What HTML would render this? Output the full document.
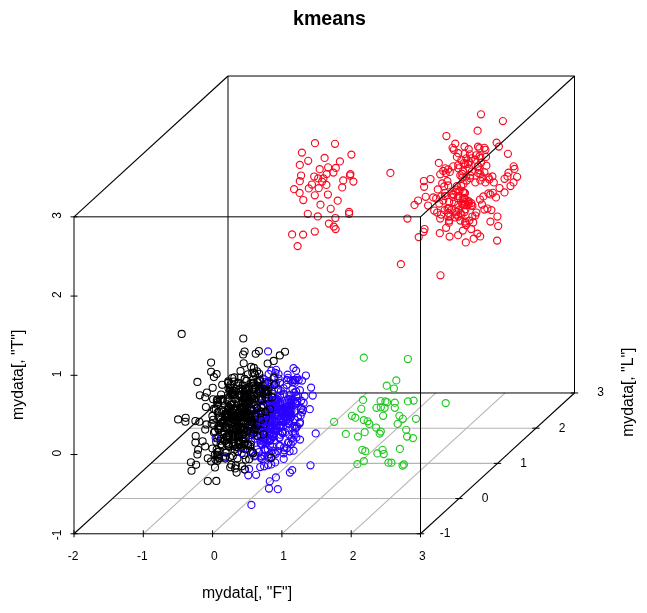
<!DOCTYPE html>
<html><head><meta charset="utf-8"><title>kmeans</title>
<style>html,body{margin:0;padding:0;background:#fff}body{width:647px;height:613px;overflow:hidden}</style></head>
<body>
<svg width="647" height="613" viewBox="0 0 647 613" style="display:block">
<rect width="647" height="613" fill="#fff"/>
<g stroke="#b4b4b4" stroke-width="1.05" fill="none"><line x1="143.30" y1="533.78" x2="297.30" y2="392.98"/><line x1="212.60" y1="533.78" x2="366.60" y2="392.98"/><line x1="281.90" y1="533.78" x2="435.90" y2="392.98"/><line x1="351.20" y1="533.78" x2="505.20" y2="392.98"/><line x1="112.50" y1="498.58" x2="459.00" y2="498.58"/><line x1="151.00" y1="463.38" x2="497.50" y2="463.38"/><line x1="189.50" y1="428.18" x2="536.00" y2="428.18"/></g>
<g stroke="#000" stroke-width="1" fill="none"><line x1="228.0" y1="76.03" x2="228.0" y2="392.98"/><line x1="228.0" y1="392.98" x2="574.5" y2="392.98"/><line x1="74.0" y1="533.78" x2="228.0" y2="392.98" stroke-width="1.12"/></g>
<g fill="none" class="p">
<g stroke="#f8081f" stroke-width="1.15"><circle cx="315.0" cy="143.2" r="3.55"/><circle cx="335.0" cy="143.8" r="3.55"/><circle cx="301.9" cy="152.6" r="3.55"/><circle cx="351.4" cy="154.6" r="3.55"/><circle cx="324.6" cy="157.9" r="3.55"/><circle cx="308.2" cy="160.8" r="3.55"/><circle cx="339.9" cy="161.4" r="3.55"/><circle cx="299.8" cy="164.9" r="3.55"/><circle cx="328.1" cy="167.3" r="3.55"/><circle cx="335.8" cy="167.9" r="3.55"/><circle cx="319.7" cy="169.2" r="3.55"/><circle cx="333.4" cy="172.6" r="3.55"/><circle cx="326.6" cy="174.1" r="3.55"/><circle cx="301.1" cy="175.5" r="3.55"/><circle cx="314.2" cy="176.5" r="3.55"/><circle cx="350.4" cy="174.1" r="3.55"/><circle cx="350.0" cy="175.5" r="3.55"/><circle cx="318.2" cy="178.4" r="3.55"/><circle cx="323.4" cy="178.4" r="3.55"/><circle cx="322.1" cy="181.6" r="3.55"/><circle cx="343.2" cy="180.4" r="3.55"/><circle cx="353.4" cy="181.6" r="3.55"/><circle cx="299.8" cy="181.2" r="3.55"/><circle cx="311.9" cy="184.5" r="3.55"/><circle cx="326.4" cy="184.9" r="3.55"/><circle cx="294.1" cy="189.2" r="3.55"/><circle cx="308.8" cy="188.4" r="3.55"/><circle cx="318.7" cy="188.2" r="3.55"/><circle cx="342.2" cy="187.4" r="3.55"/><circle cx="299.6" cy="192.9" r="3.55"/><circle cx="314.8" cy="195.3" r="3.55"/><circle cx="327.9" cy="194.5" r="3.55"/><circle cx="303.3" cy="200.0" r="3.55"/><circle cx="337.7" cy="200.7" r="3.55"/><circle cx="320.5" cy="204.7" r="3.55"/><circle cx="330.7" cy="208.8" r="3.55"/><circle cx="349.1" cy="211.9" r="3.55"/><circle cx="349.1" cy="213.8" r="3.55"/><circle cx="307.8" cy="213.8" r="3.55"/><circle cx="317.8" cy="216.4" r="3.55"/><circle cx="335.4" cy="218.0" r="3.55"/><circle cx="328.9" cy="223.6" r="3.55"/><circle cx="333.8" cy="226.6" r="3.55"/><circle cx="335.6" cy="229.1" r="3.55"/><circle cx="314.8" cy="231.5" r="3.55"/><circle cx="292.1" cy="234.4" r="3.55"/><circle cx="303.1" cy="234.6" r="3.55"/><circle cx="297.6" cy="246.1" r="3.55"/><circle cx="481.0" cy="114.3" r="3.55"/><circle cx="502.9" cy="121.1" r="3.55"/><circle cx="477.6" cy="130.7" r="3.55"/><circle cx="446.4" cy="136.0" r="3.55"/><circle cx="496.6" cy="142.6" r="3.55"/><circle cx="498.9" cy="146.6" r="3.55"/><circle cx="507.9" cy="153.8" r="3.55"/><circle cx="455.3" cy="143.6" r="3.55"/><circle cx="452.6" cy="147.8" r="3.55"/><circle cx="453.8" cy="149.8" r="3.55"/><circle cx="464.5" cy="146.6" r="3.55"/><circle cx="468.7" cy="149.2" r="3.55"/><circle cx="478.0" cy="146.6" r="3.55"/><circle cx="479.4" cy="148.2" r="3.55"/><circle cx="484.4" cy="147.8" r="3.55"/><circle cx="485.4" cy="149.8" r="3.55"/><circle cx="438.8" cy="162.9" r="3.55"/><circle cx="430.5" cy="179.0" r="3.55"/><circle cx="423.9" cy="181.0" r="3.55"/><circle cx="424.1" cy="186.8" r="3.55"/><circle cx="425.7" cy="196.8" r="3.55"/><circle cx="418.1" cy="200.5" r="3.55"/><circle cx="414.5" cy="204.9" r="3.55"/><circle cx="407.4" cy="218.5" r="3.55"/><circle cx="513.7" cy="166.3" r="3.55"/><circle cx="514.5" cy="168.9" r="3.55"/><circle cx="517.1" cy="176.8" r="3.55"/><circle cx="508.5" cy="172.7" r="3.55"/><circle cx="507.5" cy="176.4" r="3.55"/><circle cx="504.5" cy="178.8" r="3.55"/><circle cx="513.5" cy="182.4" r="3.55"/><circle cx="510.5" cy="186.0" r="3.55"/><circle cx="504.5" cy="192.4" r="3.55"/><circle cx="499.5" cy="188.0" r="3.55"/><circle cx="496.0" cy="197.4" r="3.55"/><circle cx="493.8" cy="182.4" r="3.55"/><circle cx="492.4" cy="176.4" r="3.55"/><circle cx="486.4" cy="165.7" r="3.55"/><circle cx="486.0" cy="156.9" r="3.55"/><circle cx="458.3" cy="153.2" r="3.55"/><circle cx="456.9" cy="156.9" r="3.55"/><circle cx="464.7" cy="153.8" r="3.55"/><circle cx="466.3" cy="158.3" r="3.55"/><circle cx="469.9" cy="154.3" r="3.55"/><circle cx="471.5" cy="158.3" r="3.55"/><circle cx="476.0" cy="155.3" r="3.55"/><circle cx="475.3" cy="159.7" r="3.55"/><circle cx="469.3" cy="162.3" r="3.55"/><circle cx="465.3" cy="164.3" r="3.55"/><circle cx="461.3" cy="160.3" r="3.55"/><circle cx="453.2" cy="166.3" r="3.55"/><circle cx="448.2" cy="169.3" r="3.55"/><circle cx="449.8" cy="171.9" r="3.55"/><circle cx="445.2" cy="168.3" r="3.55"/><circle cx="443.2" cy="170.9" r="3.55"/><circle cx="440.2" cy="174.3" r="3.55"/><circle cx="458.3" cy="168.3" r="3.55"/><circle cx="460.3" cy="175.3" r="3.55"/><circle cx="462.3" cy="177.4" r="3.55"/><circle cx="466.3" cy="176.4" r="3.55"/><circle cx="469.3" cy="168.3" r="3.55"/><circle cx="479.4" cy="170.3" r="3.55"/><circle cx="480.4" cy="174.3" r="3.55"/><circle cx="482.4" cy="177.4" r="3.55"/><circle cx="484.4" cy="172.3" r="3.55"/><circle cx="488.4" cy="177.4" r="3.55"/><circle cx="489.4" cy="179.4" r="3.55"/><circle cx="485.4" cy="182.4" r="3.55"/><circle cx="480.4" cy="180.4" r="3.55"/><circle cx="475.3" cy="182.4" r="3.55"/><circle cx="478.4" cy="166.3" r="3.55"/><circle cx="442.2" cy="183.4" r="3.55"/><circle cx="444.2" cy="186.4" r="3.55"/><circle cx="448.2" cy="185.4" r="3.55"/><circle cx="437.8" cy="189.4" r="3.55"/><circle cx="433.2" cy="197.4" r="3.55"/><circle cx="436.2" cy="198.5" r="3.55"/><circle cx="428.1" cy="205.5" r="3.55"/><circle cx="439.2" cy="203.5" r="3.55"/><circle cx="443.2" cy="200.5" r="3.55"/><circle cx="441.2" cy="196.4" r="3.55"/><circle cx="434.2" cy="210.5" r="3.55"/><circle cx="437.2" cy="212.5" r="3.55"/><circle cx="441.2" cy="214.5" r="3.55"/><circle cx="444.6" cy="210.1" r="3.55"/><circle cx="440.2" cy="218.5" r="3.55"/><circle cx="448.2" cy="216.5" r="3.55"/><circle cx="449.2" cy="220.6" r="3.55"/><circle cx="488.4" cy="193.4" r="3.55"/><circle cx="490.4" cy="194.4" r="3.55"/><circle cx="492.8" cy="192.8" r="3.55"/><circle cx="483.4" cy="196.4" r="3.55"/><circle cx="480.0" cy="199.5" r="3.55"/><circle cx="482.0" cy="204.5" r="3.55"/><circle cx="484.4" cy="209.5" r="3.55"/><circle cx="487.4" cy="208.5" r="3.55"/><circle cx="491.4" cy="210.1" r="3.55"/><circle cx="497.4" cy="216.5" r="3.55"/><circle cx="490.4" cy="221.6" r="3.55"/><circle cx="476.4" cy="212.5" r="3.55"/><circle cx="475.3" cy="215.5" r="3.55"/><circle cx="472.3" cy="216.5" r="3.55"/><circle cx="469.3" cy="220.6" r="3.55"/><circle cx="465.3" cy="221.6" r="3.55"/><circle cx="461.3" cy="214.5" r="3.55"/><circle cx="458.3" cy="216.5" r="3.55"/><circle cx="456.3" cy="214.5" r="3.55"/><circle cx="460.3" cy="220.6" r="3.55"/><circle cx="458.3" cy="204.8" r="3.55"/><circle cx="458.6" cy="196.2" r="3.55"/><circle cx="453.2" cy="197.2" r="3.55"/><circle cx="468.8" cy="203.9" r="3.55"/><circle cx="468.2" cy="202.1" r="3.55"/><circle cx="463.3" cy="201.4" r="3.55"/><circle cx="447.6" cy="208.4" r="3.55"/><circle cx="464.1" cy="204.7" r="3.55"/><circle cx="447.4" cy="181.2" r="3.55"/><circle cx="453.5" cy="194.6" r="3.55"/><circle cx="462.6" cy="199.0" r="3.55"/><circle cx="464.3" cy="192.7" r="3.55"/><circle cx="462.6" cy="203.6" r="3.55"/><circle cx="455.2" cy="217.4" r="3.55"/><circle cx="464.5" cy="212.0" r="3.55"/><circle cx="455.5" cy="191.7" r="3.55"/><circle cx="457.7" cy="198.3" r="3.55"/><circle cx="465.1" cy="202.1" r="3.55"/><circle cx="456.9" cy="189.5" r="3.55"/><circle cx="456.3" cy="212.2" r="3.55"/><circle cx="454.1" cy="202.0" r="3.55"/><circle cx="463.5" cy="183.9" r="3.55"/><circle cx="460.6" cy="213.1" r="3.55"/><circle cx="444.9" cy="196.1" r="3.55"/><circle cx="459.5" cy="190.9" r="3.55"/><circle cx="464.1" cy="198.8" r="3.55"/><circle cx="449.1" cy="208.1" r="3.55"/><circle cx="465.4" cy="209.3" r="3.55"/><circle cx="471.3" cy="203.2" r="3.55"/><circle cx="461.2" cy="185.9" r="3.55"/><circle cx="465.0" cy="193.1" r="3.55"/><circle cx="456.8" cy="186.2" r="3.55"/><circle cx="452.9" cy="193.9" r="3.55"/><circle cx="470.1" cy="178.2" r="3.55"/><circle cx="449.1" cy="202.0" r="3.55"/><circle cx="471.3" cy="205.5" r="3.55"/><circle cx="445.8" cy="173.1" r="3.55"/><circle cx="463.0" cy="191.8" r="3.55"/><circle cx="451.7" cy="209.7" r="3.55"/><circle cx="468.7" cy="201.1" r="3.55"/><circle cx="462.2" cy="204.0" r="3.55"/><circle cx="472.4" cy="205.9" r="3.55"/><circle cx="464.2" cy="205.2" r="3.55"/><circle cx="448.3" cy="212.9" r="3.55"/><circle cx="467.6" cy="205.0" r="3.55"/><circle cx="445.2" cy="192.8" r="3.55"/><circle cx="466.7" cy="180.5" r="3.55"/><circle cx="458.9" cy="210.1" r="3.55"/><circle cx="450.3" cy="216.3" r="3.55"/><circle cx="464.5" cy="197.9" r="3.55"/><circle cx="471.9" cy="171.5" r="3.55"/><circle cx="470.3" cy="175.5" r="3.55"/><circle cx="464.0" cy="163.0" r="3.55"/><circle cx="477.7" cy="166.5" r="3.55"/><circle cx="462.2" cy="173.9" r="3.55"/><circle cx="481.1" cy="162.7" r="3.55"/><circle cx="458.2" cy="165.2" r="3.55"/><circle cx="468.1" cy="163.9" r="3.55"/><circle cx="480.6" cy="158.1" r="3.55"/><circle cx="479.5" cy="156.1" r="3.55"/><circle cx="463.0" cy="171.4" r="3.55"/><circle cx="478.4" cy="173.2" r="3.55"/><circle cx="424.5" cy="229.0" r="3.55"/><circle cx="423.6" cy="231.8" r="3.55"/><circle cx="418.7" cy="237.1" r="3.55"/><circle cx="400.9" cy="264.2" r="3.55"/><circle cx="440.5" cy="275.3" r="3.55"/><circle cx="439.8" cy="233.2" r="3.55"/><circle cx="446.1" cy="227.8" r="3.55"/><circle cx="448.9" cy="222.7" r="3.55"/><circle cx="449.6" cy="236.6" r="3.55"/><circle cx="458.1" cy="235.2" r="3.55"/><circle cx="462.8" cy="230.6" r="3.55"/><circle cx="465.8" cy="242.4" r="3.55"/><circle cx="471.1" cy="229.0" r="3.55"/><circle cx="473.7" cy="238.7" r="3.55"/><circle cx="477.4" cy="233.6" r="3.55"/><circle cx="480.2" cy="236.4" r="3.55"/><circle cx="473.2" cy="222.5" r="3.55"/><circle cx="465.3" cy="223.2" r="3.55"/><circle cx="498.2" cy="226.0" r="3.55"/><circle cx="497.1" cy="240.6" r="3.55"/><circle cx="466.2" cy="225.0" r="3.55"/><circle cx="390.4" cy="172.9" r="3.55"/></g>
<g stroke="#1fc81f" stroke-width="1.15"><circle cx="363.8" cy="357.7" r="3.55"/><circle cx="407.9" cy="359.0" r="3.55"/><circle cx="396.3" cy="380.4" r="3.55"/><circle cx="386.7" cy="385.7" r="3.55"/><circle cx="393.9" cy="388.5" r="3.55"/><circle cx="363.0" cy="399.9" r="3.55"/><circle cx="380.6" cy="401.0" r="3.55"/><circle cx="385.4" cy="401.4" r="3.55"/><circle cx="387.1" cy="402.3" r="3.55"/><circle cx="394.8" cy="402.7" r="3.55"/><circle cx="407.9" cy="401.4" r="3.55"/><circle cx="413.6" cy="400.6" r="3.55"/><circle cx="445.7" cy="403.1" r="3.55"/><circle cx="361.3" cy="408.8" r="3.55"/><circle cx="376.5" cy="407.8" r="3.55"/><circle cx="380.8" cy="407.3" r="3.55"/><circle cx="384.6" cy="407.8" r="3.55"/><circle cx="394.8" cy="407.8" r="3.55"/><circle cx="383.1" cy="415.8" r="3.55"/><circle cx="351.9" cy="415.8" r="3.55"/><circle cx="355.3" cy="417.7" r="3.55"/><circle cx="399.4" cy="415.8" r="3.55"/><circle cx="402.8" cy="418.8" r="3.55"/><circle cx="416.0" cy="418.8" r="3.55"/><circle cx="334.1" cy="421.8" r="3.55"/><circle cx="363.8" cy="420.1" r="3.55"/><circle cx="367.6" cy="421.3" r="3.55"/><circle cx="369.3" cy="423.9" r="3.55"/><circle cx="397.7" cy="423.9" r="3.55"/><circle cx="376.1" cy="427.5" r="3.55"/><circle cx="406.2" cy="429.8" r="3.55"/><circle cx="380.8" cy="431.5" r="3.55"/><circle cx="379.7" cy="433.6" r="3.55"/><circle cx="364.7" cy="432.2" r="3.55"/><circle cx="345.8" cy="433.9" r="3.55"/><circle cx="357.9" cy="436.6" r="3.55"/><circle cx="407.1" cy="436.6" r="3.55"/><circle cx="413.0" cy="438.1" r="3.55"/><circle cx="399.9" cy="448.9" r="3.55"/><circle cx="362.3" cy="449.8" r="3.55"/><circle cx="365.3" cy="451.2" r="3.55"/><circle cx="382.5" cy="449.8" r="3.55"/><circle cx="377.4" cy="453.4" r="3.55"/><circle cx="383.7" cy="454.0" r="3.55"/><circle cx="363.8" cy="461.2" r="3.55"/><circle cx="357.4" cy="464.2" r="3.55"/><circle cx="388.4" cy="462.7" r="3.55"/><circle cx="391.4" cy="462.7" r="3.55"/><circle cx="402.6" cy="465.5" r="3.55"/><circle cx="403.9" cy="464.4" r="3.55"/></g>
<g stroke="#2a00ff" stroke-width="1.15"><circle cx="289.9" cy="414.7" r="3.55"/><circle cx="246.0" cy="435.6" r="3.55"/><circle cx="259.0" cy="452.0" r="3.55"/><circle cx="255.8" cy="415.7" r="3.55"/><circle cx="252.0" cy="414.5" r="3.55"/><circle cx="296.9" cy="426.4" r="3.55"/><circle cx="271.3" cy="438.8" r="3.55"/><circle cx="255.9" cy="427.4" r="3.55"/><circle cx="290.1" cy="418.7" r="3.55"/><circle cx="282.2" cy="432.9" r="3.55"/><circle cx="273.3" cy="408.0" r="3.55"/><circle cx="282.6" cy="431.6" r="3.55"/><circle cx="270.7" cy="439.6" r="3.55"/><circle cx="278.3" cy="388.8" r="3.55"/><circle cx="261.6" cy="421.6" r="3.55"/><circle cx="276.1" cy="369.8" r="3.55"/><circle cx="269.1" cy="382.1" r="3.55"/><circle cx="286.1" cy="407.4" r="3.55"/><circle cx="251.5" cy="409.0" r="3.55"/><circle cx="267.6" cy="456.4" r="3.55"/><circle cx="281.2" cy="426.9" r="3.55"/><circle cx="295.1" cy="380.4" r="3.55"/><circle cx="265.2" cy="450.1" r="3.55"/><circle cx="276.3" cy="414.2" r="3.55"/><circle cx="281.0" cy="419.3" r="3.55"/><circle cx="262.5" cy="385.1" r="3.55"/><circle cx="266.1" cy="417.8" r="3.55"/><circle cx="246.2" cy="417.4" r="3.55"/><circle cx="259.9" cy="386.6" r="3.55"/><circle cx="251.3" cy="441.9" r="3.55"/><circle cx="272.1" cy="412.0" r="3.55"/><circle cx="263.9" cy="440.6" r="3.55"/><circle cx="291.3" cy="403.2" r="3.55"/><circle cx="294.9" cy="419.6" r="3.55"/><circle cx="269.9" cy="427.3" r="3.55"/><circle cx="296.2" cy="427.9" r="3.55"/><circle cx="276.0" cy="406.9" r="3.55"/><circle cx="250.8" cy="407.9" r="3.55"/><circle cx="270.6" cy="408.3" r="3.55"/><circle cx="282.7" cy="433.0" r="3.55"/><circle cx="263.7" cy="433.8" r="3.55"/><circle cx="279.5" cy="427.1" r="3.55"/><circle cx="294.9" cy="382.7" r="3.55"/><circle cx="280.0" cy="412.4" r="3.55"/><circle cx="266.7" cy="412.3" r="3.55"/><circle cx="264.2" cy="455.6" r="3.55"/><circle cx="295.8" cy="403.2" r="3.55"/><circle cx="283.6" cy="453.3" r="3.55"/><circle cx="264.0" cy="428.2" r="3.55"/><circle cx="270.6" cy="383.7" r="3.55"/><circle cx="273.6" cy="436.5" r="3.55"/><circle cx="261.5" cy="407.9" r="3.55"/><circle cx="263.1" cy="416.3" r="3.55"/><circle cx="272.0" cy="383.7" r="3.55"/><circle cx="266.1" cy="423.9" r="3.55"/><circle cx="276.5" cy="405.4" r="3.55"/><circle cx="262.5" cy="389.2" r="3.55"/><circle cx="271.8" cy="414.0" r="3.55"/><circle cx="271.4" cy="406.0" r="3.55"/><circle cx="265.1" cy="432.9" r="3.55"/><circle cx="265.0" cy="449.5" r="3.55"/><circle cx="283.3" cy="420.8" r="3.55"/><circle cx="263.7" cy="415.7" r="3.55"/><circle cx="257.6" cy="435.8" r="3.55"/><circle cx="261.0" cy="430.6" r="3.55"/><circle cx="261.3" cy="444.1" r="3.55"/><circle cx="280.0" cy="382.9" r="3.55"/><circle cx="266.4" cy="428.2" r="3.55"/><circle cx="269.7" cy="439.8" r="3.55"/><circle cx="269.8" cy="417.9" r="3.55"/><circle cx="264.0" cy="406.3" r="3.55"/><circle cx="259.6" cy="422.0" r="3.55"/><circle cx="276.5" cy="430.1" r="3.55"/><circle cx="270.0" cy="420.4" r="3.55"/><circle cx="288.7" cy="442.8" r="3.55"/><circle cx="256.4" cy="400.7" r="3.55"/><circle cx="284.1" cy="447.5" r="3.55"/><circle cx="284.5" cy="407.9" r="3.55"/><circle cx="271.6" cy="408.8" r="3.55"/><circle cx="264.1" cy="379.4" r="3.55"/><circle cx="258.8" cy="398.6" r="3.55"/><circle cx="292.4" cy="427.4" r="3.55"/><circle cx="280.9" cy="391.0" r="3.55"/><circle cx="254.4" cy="423.7" r="3.55"/><circle cx="272.6" cy="393.8" r="3.55"/><circle cx="288.4" cy="411.1" r="3.55"/><circle cx="279.1" cy="420.1" r="3.55"/><circle cx="274.3" cy="384.6" r="3.55"/><circle cx="253.6" cy="421.1" r="3.55"/><circle cx="288.1" cy="442.3" r="3.55"/><circle cx="275.8" cy="414.3" r="3.55"/><circle cx="270.7" cy="419.6" r="3.55"/><circle cx="281.7" cy="409.0" r="3.55"/><circle cx="272.3" cy="436.8" r="3.55"/><circle cx="255.0" cy="438.7" r="3.55"/><circle cx="276.0" cy="383.3" r="3.55"/><circle cx="264.0" cy="392.8" r="3.55"/><circle cx="279.2" cy="410.7" r="3.55"/><circle cx="264.1" cy="392.3" r="3.55"/><circle cx="254.6" cy="405.0" r="3.55"/><circle cx="272.6" cy="427.5" r="3.55"/><circle cx="261.3" cy="424.1" r="3.55"/><circle cx="269.4" cy="434.5" r="3.55"/><circle cx="275.9" cy="421.7" r="3.55"/><circle cx="251.6" cy="431.2" r="3.55"/><circle cx="267.8" cy="449.3" r="3.55"/><circle cx="249.6" cy="422.1" r="3.55"/><circle cx="260.7" cy="414.0" r="3.55"/><circle cx="278.4" cy="412.4" r="3.55"/><circle cx="283.5" cy="388.2" r="3.55"/><circle cx="293.0" cy="380.2" r="3.55"/><circle cx="273.2" cy="430.7" r="3.55"/><circle cx="287.7" cy="411.9" r="3.55"/><circle cx="253.0" cy="411.1" r="3.55"/><circle cx="294.2" cy="392.6" r="3.55"/><circle cx="278.0" cy="451.2" r="3.55"/><circle cx="275.7" cy="399.5" r="3.55"/><circle cx="291.7" cy="415.8" r="3.55"/><circle cx="274.1" cy="440.2" r="3.55"/><circle cx="279.5" cy="446.1" r="3.55"/><circle cx="267.2" cy="398.3" r="3.55"/><circle cx="284.3" cy="450.3" r="3.55"/><circle cx="251.0" cy="432.7" r="3.55"/><circle cx="292.6" cy="382.2" r="3.55"/><circle cx="289.8" cy="412.9" r="3.55"/><circle cx="284.1" cy="409.1" r="3.55"/><circle cx="267.3" cy="398.6" r="3.55"/><circle cx="287.4" cy="418.9" r="3.55"/><circle cx="276.6" cy="428.1" r="3.55"/><circle cx="264.2" cy="425.0" r="3.55"/><circle cx="255.3" cy="414.6" r="3.55"/><circle cx="289.0" cy="409.2" r="3.55"/><circle cx="265.7" cy="413.7" r="3.55"/><circle cx="273.4" cy="397.1" r="3.55"/><circle cx="260.6" cy="457.8" r="3.55"/><circle cx="301.2" cy="409.2" r="3.55"/><circle cx="270.9" cy="427.1" r="3.55"/><circle cx="290.7" cy="380.5" r="3.55"/><circle cx="280.2" cy="410.5" r="3.55"/><circle cx="288.9" cy="414.9" r="3.55"/><circle cx="262.4" cy="444.6" r="3.55"/><circle cx="269.1" cy="415.6" r="3.55"/><circle cx="278.4" cy="400.1" r="3.55"/><circle cx="280.1" cy="403.4" r="3.55"/><circle cx="261.8" cy="456.3" r="3.55"/><circle cx="288.4" cy="415.4" r="3.55"/><circle cx="266.9" cy="432.4" r="3.55"/><circle cx="269.6" cy="441.2" r="3.55"/><circle cx="282.5" cy="421.8" r="3.55"/><circle cx="291.6" cy="405.4" r="3.55"/><circle cx="249.8" cy="450.9" r="3.55"/><circle cx="288.5" cy="403.0" r="3.55"/><circle cx="270.0" cy="429.1" r="3.55"/><circle cx="267.3" cy="440.3" r="3.55"/><circle cx="269.7" cy="387.1" r="3.55"/><circle cx="283.1" cy="410.7" r="3.55"/><circle cx="270.7" cy="429.1" r="3.55"/><circle cx="287.6" cy="409.5" r="3.55"/><circle cx="271.1" cy="425.0" r="3.55"/><circle cx="275.4" cy="429.3" r="3.55"/><circle cx="266.5" cy="424.9" r="3.55"/><circle cx="290.0" cy="411.9" r="3.55"/><circle cx="285.1" cy="417.5" r="3.55"/><circle cx="269.6" cy="454.3" r="3.55"/><circle cx="274.7" cy="409.4" r="3.55"/><circle cx="265.2" cy="397.4" r="3.55"/><circle cx="263.2" cy="404.7" r="3.55"/><circle cx="262.0" cy="459.0" r="3.55"/><circle cx="296.7" cy="403.9" r="3.55"/><circle cx="274.7" cy="421.8" r="3.55"/><circle cx="251.2" cy="452.3" r="3.55"/><circle cx="282.7" cy="412.8" r="3.55"/><circle cx="264.0" cy="431.5" r="3.55"/><circle cx="278.3" cy="389.8" r="3.55"/><circle cx="298.1" cy="396.0" r="3.55"/><circle cx="258.2" cy="428.4" r="3.55"/><circle cx="292.5" cy="389.1" r="3.55"/><circle cx="279.4" cy="437.8" r="3.55"/><circle cx="273.0" cy="418.4" r="3.55"/><circle cx="291.4" cy="411.0" r="3.55"/><circle cx="265.4" cy="437.5" r="3.55"/><circle cx="285.7" cy="412.6" r="3.55"/><circle cx="264.6" cy="427.5" r="3.55"/><circle cx="270.6" cy="429.3" r="3.55"/><circle cx="251.1" cy="428.5" r="3.55"/><circle cx="294.2" cy="411.8" r="3.55"/><circle cx="291.6" cy="400.2" r="3.55"/><circle cx="279.6" cy="426.6" r="3.55"/><circle cx="262.7" cy="378.4" r="3.55"/><circle cx="280.4" cy="408.5" r="3.55"/><circle cx="283.9" cy="394.0" r="3.55"/><circle cx="291.7" cy="438.3" r="3.55"/><circle cx="295.2" cy="402.5" r="3.55"/><circle cx="286.7" cy="416.2" r="3.55"/><circle cx="274.1" cy="434.3" r="3.55"/><circle cx="261.5" cy="422.0" r="3.55"/><circle cx="281.3" cy="411.9" r="3.55"/><circle cx="250.0" cy="430.9" r="3.55"/><circle cx="263.4" cy="438.5" r="3.55"/><circle cx="284.4" cy="409.7" r="3.55"/><circle cx="257.8" cy="430.7" r="3.55"/><circle cx="299.9" cy="390.2" r="3.55"/><circle cx="271.8" cy="416.1" r="3.55"/><circle cx="288.6" cy="406.1" r="3.55"/><circle cx="286.9" cy="379.9" r="3.55"/><circle cx="278.2" cy="403.9" r="3.55"/><circle cx="263.7" cy="442.2" r="3.55"/><circle cx="260.6" cy="443.5" r="3.55"/><circle cx="283.3" cy="426.0" r="3.55"/><circle cx="272.4" cy="446.8" r="3.55"/><circle cx="272.3" cy="422.0" r="3.55"/><circle cx="299.7" cy="423.5" r="3.55"/><circle cx="289.0" cy="420.8" r="3.55"/><circle cx="289.6" cy="395.0" r="3.55"/><circle cx="265.3" cy="426.3" r="3.55"/><circle cx="257.0" cy="449.5" r="3.55"/><circle cx="293.5" cy="400.3" r="3.55"/><circle cx="263.3" cy="405.8" r="3.55"/><circle cx="271.8" cy="433.9" r="3.55"/><circle cx="268.1" cy="405.0" r="3.55"/><circle cx="283.8" cy="416.6" r="3.55"/><circle cx="280.3" cy="401.9" r="3.55"/><circle cx="265.4" cy="382.2" r="3.55"/><circle cx="286.2" cy="420.5" r="3.55"/><circle cx="258.0" cy="413.3" r="3.55"/><circle cx="280.3" cy="434.7" r="3.55"/><circle cx="254.8" cy="424.4" r="3.55"/><circle cx="264.7" cy="390.7" r="3.55"/><circle cx="264.1" cy="415.0" r="3.55"/><circle cx="280.3" cy="445.8" r="3.55"/><circle cx="295.2" cy="428.7" r="3.55"/><circle cx="276.7" cy="398.7" r="3.55"/><circle cx="269.2" cy="433.7" r="3.55"/><circle cx="280.1" cy="395.9" r="3.55"/><circle cx="254.1" cy="456.3" r="3.55"/><circle cx="266.2" cy="443.2" r="3.55"/><circle cx="297.1" cy="378.0" r="3.55"/><circle cx="276.7" cy="425.4" r="3.55"/><circle cx="244.2" cy="439.0" r="3.55"/><circle cx="260.3" cy="435.6" r="3.55"/><circle cx="303.0" cy="410.1" r="3.55"/><circle cx="255.3" cy="455.4" r="3.55"/><circle cx="285.1" cy="432.4" r="3.55"/><circle cx="303.6" cy="403.0" r="3.55"/><circle cx="262.5" cy="417.1" r="3.55"/><circle cx="275.4" cy="400.7" r="3.55"/><circle cx="272.5" cy="405.8" r="3.55"/><circle cx="276.0" cy="402.5" r="3.55"/><circle cx="267.4" cy="439.9" r="3.55"/><circle cx="275.8" cy="453.8" r="3.55"/><circle cx="297.9" cy="417.0" r="3.55"/><circle cx="289.1" cy="434.5" r="3.55"/><circle cx="251.0" cy="420.6" r="3.55"/><circle cx="260.4" cy="396.5" r="3.55"/><circle cx="278.5" cy="374.0" r="3.55"/><circle cx="258.9" cy="412.8" r="3.55"/><circle cx="289.1" cy="400.1" r="3.55"/><circle cx="266.7" cy="399.2" r="3.55"/><circle cx="256.4" cy="415.0" r="3.55"/><circle cx="271.3" cy="416.1" r="3.55"/><circle cx="279.3" cy="408.7" r="3.55"/><circle cx="256.8" cy="431.9" r="3.55"/><circle cx="279.6" cy="437.5" r="3.55"/><circle cx="285.6" cy="411.8" r="3.55"/><circle cx="262.5" cy="393.9" r="3.55"/><circle cx="279.5" cy="404.1" r="3.55"/><circle cx="275.4" cy="372.9" r="3.55"/><circle cx="267.3" cy="404.0" r="3.55"/><circle cx="286.6" cy="384.8" r="3.55"/><circle cx="261.3" cy="421.7" r="3.55"/><circle cx="270.0" cy="446.0" r="3.55"/><circle cx="290.2" cy="408.0" r="3.55"/><circle cx="268.7" cy="413.3" r="3.55"/><circle cx="297.3" cy="401.1" r="3.55"/><circle cx="264.8" cy="434.2" r="3.55"/><circle cx="260.3" cy="440.7" r="3.55"/><circle cx="287.1" cy="406.6" r="3.55"/><circle cx="274.9" cy="400.5" r="3.55"/><circle cx="288.6" cy="423.5" r="3.55"/><circle cx="269.0" cy="457.4" r="3.55"/><circle cx="268.4" cy="415.4" r="3.55"/><circle cx="270.6" cy="433.2" r="3.55"/><circle cx="250.6" cy="395.6" r="3.55"/><circle cx="293.2" cy="433.3" r="3.55"/><circle cx="288.0" cy="398.8" r="3.55"/><circle cx="290.5" cy="398.8" r="3.55"/><circle cx="270.5" cy="425.6" r="3.55"/><circle cx="276.7" cy="416.1" r="3.55"/><circle cx="263.8" cy="421.1" r="3.55"/><circle cx="279.9" cy="425.2" r="3.55"/><circle cx="268.8" cy="400.5" r="3.55"/></g>
<g stroke="#000000" stroke-width="1.05"><circle cx="260.5" cy="389.3" r="3.55"/><circle cx="218.7" cy="451.4" r="3.55"/><circle cx="222.0" cy="444.9" r="3.55"/><circle cx="250.8" cy="417.5" r="3.55"/><circle cx="218.6" cy="436.5" r="3.55"/><circle cx="238.3" cy="447.3" r="3.55"/><circle cx="242.9" cy="429.5" r="3.55"/><circle cx="227.9" cy="422.8" r="3.55"/><circle cx="236.7" cy="424.2" r="3.55"/><circle cx="240.7" cy="416.2" r="3.55"/><circle cx="228.9" cy="422.1" r="3.55"/><circle cx="245.0" cy="389.2" r="3.55"/><circle cx="258.2" cy="385.7" r="3.55"/><circle cx="235.8" cy="465.4" r="3.55"/><circle cx="241.0" cy="414.8" r="3.55"/><circle cx="217.3" cy="460.8" r="3.55"/><circle cx="253.6" cy="391.9" r="3.55"/><circle cx="255.8" cy="413.4" r="3.55"/><circle cx="228.3" cy="381.4" r="3.55"/><circle cx="233.0" cy="432.5" r="3.55"/><circle cx="234.9" cy="420.4" r="3.55"/><circle cx="216.7" cy="455.3" r="3.55"/><circle cx="229.9" cy="387.2" r="3.55"/><circle cx="240.8" cy="408.2" r="3.55"/><circle cx="228.1" cy="438.4" r="3.55"/><circle cx="266.5" cy="394.1" r="3.55"/><circle cx="236.2" cy="421.8" r="3.55"/><circle cx="253.3" cy="385.5" r="3.55"/><circle cx="220.1" cy="425.8" r="3.55"/><circle cx="238.9" cy="437.2" r="3.55"/><circle cx="242.4" cy="409.3" r="3.55"/><circle cx="212.4" cy="415.9" r="3.55"/><circle cx="244.7" cy="378.9" r="3.55"/><circle cx="240.3" cy="388.4" r="3.55"/><circle cx="244.0" cy="455.1" r="3.55"/><circle cx="244.8" cy="395.5" r="3.55"/><circle cx="247.9" cy="374.2" r="3.55"/><circle cx="226.4" cy="417.8" r="3.55"/><circle cx="230.7" cy="413.5" r="3.55"/><circle cx="232.7" cy="417.1" r="3.55"/><circle cx="237.9" cy="403.2" r="3.55"/><circle cx="226.9" cy="436.1" r="3.55"/><circle cx="264.1" cy="424.1" r="3.55"/><circle cx="225.9" cy="416.8" r="3.55"/><circle cx="240.6" cy="377.6" r="3.55"/><circle cx="235.2" cy="399.3" r="3.55"/><circle cx="250.9" cy="396.3" r="3.55"/><circle cx="214.0" cy="432.5" r="3.55"/><circle cx="233.4" cy="430.3" r="3.55"/><circle cx="225.5" cy="452.5" r="3.55"/><circle cx="232.7" cy="417.3" r="3.55"/><circle cx="242.5" cy="435.1" r="3.55"/><circle cx="257.1" cy="436.0" r="3.55"/><circle cx="253.3" cy="379.5" r="3.55"/><circle cx="240.6" cy="429.8" r="3.55"/><circle cx="252.3" cy="422.1" r="3.55"/><circle cx="222.3" cy="399.0" r="3.55"/><circle cx="217.3" cy="438.0" r="3.55"/><circle cx="232.1" cy="401.8" r="3.55"/><circle cx="262.8" cy="388.7" r="3.55"/><circle cx="216.8" cy="400.4" r="3.55"/><circle cx="236.7" cy="409.1" r="3.55"/><circle cx="253.8" cy="404.5" r="3.55"/><circle cx="218.9" cy="426.3" r="3.55"/><circle cx="248.0" cy="431.3" r="3.55"/><circle cx="223.5" cy="434.9" r="3.55"/><circle cx="234.4" cy="439.3" r="3.55"/><circle cx="233.4" cy="415.7" r="3.55"/><circle cx="238.4" cy="382.8" r="3.55"/><circle cx="225.9" cy="413.6" r="3.55"/><circle cx="242.8" cy="385.2" r="3.55"/><circle cx="214.9" cy="454.5" r="3.55"/><circle cx="238.4" cy="441.9" r="3.55"/><circle cx="239.6" cy="395.8" r="3.55"/><circle cx="244.0" cy="444.3" r="3.55"/><circle cx="248.5" cy="394.3" r="3.55"/><circle cx="244.2" cy="429.4" r="3.55"/><circle cx="231.5" cy="410.5" r="3.55"/><circle cx="232.9" cy="435.5" r="3.55"/><circle cx="228.8" cy="446.1" r="3.55"/><circle cx="256.0" cy="428.2" r="3.55"/><circle cx="234.1" cy="442.3" r="3.55"/><circle cx="241.1" cy="413.5" r="3.55"/><circle cx="224.2" cy="420.3" r="3.55"/><circle cx="215.4" cy="459.5" r="3.55"/><circle cx="265.5" cy="392.6" r="3.55"/><circle cx="232.5" cy="414.2" r="3.55"/><circle cx="232.1" cy="378.1" r="3.55"/><circle cx="246.3" cy="394.1" r="3.55"/><circle cx="244.5" cy="402.9" r="3.55"/><circle cx="232.4" cy="392.1" r="3.55"/><circle cx="247.1" cy="403.5" r="3.55"/><circle cx="253.9" cy="399.3" r="3.55"/><circle cx="245.7" cy="438.5" r="3.55"/><circle cx="219.8" cy="417.4" r="3.55"/><circle cx="241.0" cy="414.9" r="3.55"/><circle cx="230.9" cy="393.7" r="3.55"/><circle cx="254.1" cy="432.6" r="3.55"/><circle cx="241.5" cy="394.2" r="3.55"/><circle cx="228.5" cy="388.2" r="3.55"/><circle cx="251.6" cy="399.5" r="3.55"/><circle cx="241.0" cy="423.3" r="3.55"/><circle cx="217.8" cy="402.0" r="3.55"/><circle cx="268.6" cy="397.9" r="3.55"/><circle cx="260.8" cy="411.5" r="3.55"/><circle cx="229.3" cy="407.3" r="3.55"/><circle cx="241.7" cy="410.3" r="3.55"/><circle cx="240.0" cy="432.6" r="3.55"/><circle cx="228.0" cy="394.8" r="3.55"/><circle cx="228.5" cy="406.3" r="3.55"/><circle cx="237.4" cy="451.6" r="3.55"/><circle cx="250.2" cy="421.7" r="3.55"/><circle cx="260.6" cy="399.0" r="3.55"/><circle cx="262.0" cy="399.9" r="3.55"/><circle cx="226.7" cy="426.9" r="3.55"/><circle cx="242.1" cy="446.3" r="3.55"/><circle cx="246.1" cy="401.6" r="3.55"/><circle cx="220.5" cy="440.7" r="3.55"/><circle cx="224.5" cy="420.8" r="3.55"/><circle cx="251.1" cy="419.5" r="3.55"/><circle cx="250.7" cy="444.5" r="3.55"/><circle cx="237.6" cy="420.1" r="3.55"/><circle cx="232.8" cy="456.0" r="3.55"/><circle cx="245.8" cy="406.3" r="3.55"/><circle cx="253.1" cy="434.1" r="3.55"/><circle cx="224.8" cy="415.4" r="3.55"/><circle cx="241.8" cy="417.3" r="3.55"/><circle cx="242.8" cy="390.5" r="3.55"/><circle cx="254.1" cy="395.8" r="3.55"/><circle cx="251.1" cy="383.6" r="3.55"/><circle cx="216.7" cy="449.5" r="3.55"/><circle cx="230.3" cy="385.2" r="3.55"/><circle cx="249.5" cy="386.7" r="3.55"/><circle cx="246.9" cy="404.0" r="3.55"/><circle cx="254.5" cy="388.6" r="3.55"/><circle cx="258.5" cy="390.9" r="3.55"/><circle cx="265.0" cy="390.5" r="3.55"/><circle cx="245.9" cy="388.8" r="3.55"/><circle cx="243.5" cy="412.4" r="3.55"/><circle cx="220.8" cy="399.7" r="3.55"/><circle cx="253.8" cy="382.9" r="3.55"/><circle cx="252.4" cy="382.9" r="3.55"/><circle cx="234.9" cy="449.6" r="3.55"/><circle cx="225.7" cy="415.8" r="3.55"/><circle cx="233.2" cy="419.6" r="3.55"/><circle cx="220.8" cy="438.9" r="3.55"/><circle cx="233.5" cy="408.7" r="3.55"/><circle cx="251.8" cy="396.9" r="3.55"/><circle cx="231.9" cy="415.5" r="3.55"/><circle cx="247.4" cy="443.7" r="3.55"/><circle cx="244.6" cy="443.9" r="3.55"/><circle cx="244.7" cy="416.5" r="3.55"/><circle cx="220.9" cy="419.7" r="3.55"/><circle cx="226.4" cy="442.9" r="3.55"/><circle cx="247.9" cy="420.8" r="3.55"/><circle cx="259.1" cy="391.0" r="3.55"/><circle cx="254.3" cy="429.7" r="3.55"/><circle cx="244.0" cy="415.6" r="3.55"/><circle cx="261.5" cy="407.3" r="3.55"/><circle cx="230.0" cy="418.2" r="3.55"/><circle cx="266.7" cy="391.2" r="3.55"/><circle cx="255.1" cy="374.8" r="3.55"/><circle cx="243.5" cy="398.7" r="3.55"/><circle cx="238.5" cy="383.1" r="3.55"/><circle cx="233.3" cy="444.3" r="3.55"/><circle cx="250.6" cy="418.0" r="3.55"/><circle cx="261.1" cy="420.0" r="3.55"/><circle cx="241.0" cy="427.3" r="3.55"/><circle cx="247.1" cy="408.5" r="3.55"/><circle cx="237.9" cy="435.5" r="3.55"/><circle cx="218.0" cy="454.7" r="3.55"/><circle cx="250.3" cy="424.9" r="3.55"/><circle cx="233.0" cy="412.6" r="3.55"/><circle cx="229.4" cy="427.7" r="3.55"/><circle cx="232.7" cy="429.5" r="3.55"/><circle cx="230.2" cy="467.2" r="3.55"/><circle cx="234.4" cy="377.4" r="3.55"/><circle cx="255.1" cy="416.2" r="3.55"/><circle cx="246.1" cy="412.1" r="3.55"/><circle cx="225.2" cy="456.4" r="3.55"/><circle cx="215.8" cy="409.7" r="3.55"/><circle cx="237.0" cy="447.6" r="3.55"/><circle cx="247.0" cy="413.2" r="3.55"/><circle cx="234.9" cy="408.1" r="3.55"/><circle cx="245.5" cy="388.4" r="3.55"/><circle cx="232.9" cy="409.0" r="3.55"/><circle cx="248.9" cy="415.6" r="3.55"/><circle cx="217.9" cy="456.6" r="3.55"/><circle cx="211.7" cy="423.7" r="3.55"/><circle cx="235.5" cy="432.3" r="3.55"/><circle cx="232.3" cy="394.7" r="3.55"/><circle cx="218.2" cy="428.6" r="3.55"/><circle cx="234.9" cy="436.5" r="3.55"/><circle cx="240.8" cy="394.2" r="3.55"/><circle cx="229.1" cy="443.9" r="3.55"/><circle cx="223.6" cy="411.3" r="3.55"/><circle cx="243.3" cy="421.6" r="3.55"/><circle cx="242.0" cy="411.6" r="3.55"/><circle cx="245.4" cy="449.3" r="3.55"/><circle cx="219.0" cy="411.6" r="3.55"/><circle cx="254.2" cy="428.8" r="3.55"/><circle cx="228.2" cy="416.9" r="3.55"/><circle cx="259.0" cy="388.7" r="3.55"/><circle cx="246.3" cy="380.7" r="3.55"/><circle cx="265.8" cy="397.8" r="3.55"/><circle cx="226.4" cy="413.1" r="3.55"/><circle cx="230.5" cy="418.3" r="3.55"/><circle cx="265.6" cy="411.9" r="3.55"/><circle cx="220.6" cy="444.3" r="3.55"/><circle cx="250.7" cy="409.7" r="3.55"/><circle cx="250.6" cy="408.1" r="3.55"/><circle cx="236.7" cy="416.9" r="3.55"/><circle cx="228.2" cy="435.1" r="3.55"/><circle cx="257.6" cy="424.4" r="3.55"/><circle cx="233.8" cy="403.8" r="3.55"/><circle cx="232.7" cy="436.9" r="3.55"/><circle cx="228.3" cy="444.7" r="3.55"/><circle cx="221.3" cy="423.2" r="3.55"/><circle cx="224.0" cy="431.4" r="3.55"/><circle cx="237.7" cy="427.3" r="3.55"/><circle cx="238.1" cy="385.5" r="3.55"/><circle cx="240.8" cy="391.1" r="3.55"/><circle cx="235.1" cy="410.4" r="3.55"/><circle cx="226.1" cy="415.2" r="3.55"/><circle cx="236.1" cy="428.5" r="3.55"/><circle cx="227.8" cy="418.1" r="3.55"/><circle cx="237.6" cy="421.8" r="3.55"/><circle cx="234.2" cy="420.2" r="3.55"/><circle cx="246.6" cy="430.3" r="3.55"/><circle cx="241.7" cy="403.1" r="3.55"/><circle cx="257.6" cy="382.2" r="3.55"/><circle cx="217.6" cy="412.6" r="3.55"/><circle cx="214.2" cy="425.2" r="3.55"/><circle cx="252.3" cy="451.8" r="3.55"/><circle cx="244.5" cy="394.5" r="3.55"/><circle cx="257.5" cy="393.5" r="3.55"/><circle cx="250.7" cy="413.6" r="3.55"/><circle cx="228.1" cy="408.9" r="3.55"/><circle cx="266.8" cy="391.0" r="3.55"/><circle cx="234.4" cy="429.7" r="3.55"/><circle cx="219.2" cy="458.2" r="3.55"/><circle cx="238.8" cy="441.3" r="3.55"/><circle cx="218.3" cy="417.6" r="3.55"/><circle cx="248.0" cy="387.5" r="3.55"/><circle cx="241.2" cy="407.6" r="3.55"/><circle cx="231.2" cy="404.5" r="3.55"/><circle cx="229.0" cy="435.9" r="3.55"/><circle cx="224.9" cy="405.2" r="3.55"/><circle cx="242.3" cy="439.0" r="3.55"/><circle cx="245.6" cy="403.6" r="3.55"/><circle cx="233.2" cy="445.9" r="3.55"/><circle cx="249.1" cy="388.6" r="3.55"/><circle cx="241.5" cy="447.8" r="3.55"/><circle cx="232.5" cy="412.4" r="3.55"/><circle cx="246.3" cy="397.0" r="3.55"/><circle cx="234.9" cy="434.4" r="3.55"/><circle cx="239.6" cy="443.6" r="3.55"/><circle cx="234.5" cy="395.0" r="3.55"/><circle cx="244.0" cy="398.0" r="3.55"/><circle cx="252.3" cy="372.8" r="3.55"/><circle cx="242.9" cy="408.9" r="3.55"/><circle cx="242.3" cy="412.2" r="3.55"/><circle cx="236.6" cy="427.9" r="3.55"/><circle cx="233.5" cy="394.5" r="3.55"/><circle cx="221.1" cy="394.5" r="3.55"/><circle cx="235.7" cy="417.0" r="3.55"/><circle cx="250.2" cy="400.5" r="3.55"/><circle cx="240.2" cy="418.1" r="3.55"/><circle cx="237.6" cy="437.3" r="3.55"/><circle cx="228.0" cy="417.6" r="3.55"/><circle cx="229.0" cy="446.8" r="3.55"/><circle cx="252.4" cy="409.8" r="3.55"/><circle cx="217.4" cy="452.1" r="3.55"/><circle cx="248.5" cy="417.5" r="3.55"/><circle cx="232.7" cy="428.7" r="3.55"/><circle cx="232.3" cy="423.4" r="3.55"/><circle cx="260.0" cy="379.8" r="3.55"/><circle cx="259.2" cy="373.7" r="3.55"/><circle cx="257.0" cy="408.4" r="3.55"/><circle cx="229.9" cy="457.3" r="3.55"/><circle cx="230.5" cy="405.0" r="3.55"/><circle cx="257.0" cy="425.5" r="3.55"/><circle cx="229.8" cy="412.0" r="3.55"/><circle cx="229.6" cy="398.1" r="3.55"/><circle cx="245.5" cy="424.7" r="3.55"/><circle cx="224.8" cy="440.9" r="3.55"/><circle cx="227.8" cy="417.0" r="3.55"/><circle cx="239.0" cy="443.8" r="3.55"/><circle cx="253.9" cy="367.9" r="3.55"/><circle cx="226.7" cy="452.6" r="3.55"/><circle cx="226.9" cy="436.9" r="3.55"/><circle cx="218.7" cy="429.8" r="3.55"/><circle cx="240.2" cy="427.8" r="3.55"/><circle cx="226.3" cy="423.6" r="3.55"/><circle cx="239.4" cy="436.3" r="3.55"/><circle cx="244.1" cy="407.2" r="3.55"/><circle cx="222.6" cy="400.7" r="3.55"/><circle cx="254.6" cy="416.4" r="3.55"/><circle cx="245.3" cy="397.6" r="3.55"/><circle cx="243.4" cy="434.2" r="3.55"/><circle cx="237.4" cy="458.4" r="3.55"/><circle cx="216.2" cy="441.8" r="3.55"/><circle cx="248.3" cy="399.8" r="3.55"/><circle cx="254.9" cy="387.4" r="3.55"/><circle cx="246.0" cy="391.1" r="3.55"/><circle cx="250.1" cy="446.2" r="3.55"/><circle cx="245.8" cy="414.9" r="3.55"/><circle cx="232.7" cy="394.1" r="3.55"/><circle cx="247.1" cy="403.3" r="3.55"/><circle cx="248.2" cy="445.4" r="3.55"/><circle cx="235.6" cy="391.1" r="3.55"/><circle cx="229.2" cy="433.3" r="3.55"/><circle cx="238.8" cy="394.9" r="3.55"/><circle cx="243.0" cy="402.4" r="3.55"/><circle cx="222.2" cy="421.6" r="3.55"/><circle cx="225.9" cy="436.8" r="3.55"/><circle cx="241.8" cy="429.2" r="3.55"/><circle cx="246.1" cy="430.9" r="3.55"/><circle cx="241.5" cy="420.2" r="3.55"/><circle cx="241.5" cy="406.9" r="3.55"/><circle cx="252.6" cy="402.7" r="3.55"/><circle cx="232.7" cy="390.4" r="3.55"/><circle cx="231.4" cy="417.3" r="3.55"/><circle cx="259.8" cy="381.3" r="3.55"/><circle cx="254.0" cy="372.9" r="3.55"/><circle cx="225.1" cy="426.6" r="3.55"/><circle cx="228.2" cy="409.7" r="3.55"/><circle cx="230.1" cy="390.9" r="3.55"/><circle cx="256.8" cy="407.5" r="3.55"/><circle cx="241.2" cy="408.4" r="3.55"/><circle cx="242.9" cy="439.2" r="3.55"/><circle cx="240.3" cy="446.6" r="3.55"/><circle cx="266.2" cy="417.8" r="3.55"/><circle cx="221.5" cy="409.7" r="3.55"/><circle cx="226.2" cy="427.4" r="3.55"/><circle cx="244.9" cy="428.8" r="3.55"/><circle cx="220.5" cy="427.8" r="3.55"/><circle cx="222.7" cy="423.7" r="3.55"/><circle cx="268.3" cy="390.9" r="3.55"/><circle cx="233.1" cy="420.2" r="3.55"/></g>
<g stroke="#2a00ff" stroke-width="1.15"><circle cx="279.9" cy="418.4" r="3.55"/><circle cx="296.2" cy="395.9" r="3.55"/><circle cx="268.1" cy="428.0" r="3.55"/><circle cx="262.7" cy="421.7" r="3.55"/><circle cx="269.3" cy="422.4" r="3.55"/><circle cx="277.5" cy="421.5" r="3.55"/><circle cx="301.2" cy="400.6" r="3.55"/><circle cx="288.9" cy="423.6" r="3.55"/><circle cx="270.8" cy="399.6" r="3.55"/><circle cx="268.1" cy="351.4" r="3.55"/><circle cx="293.5" cy="368.1" r="3.55"/><circle cx="296.1" cy="370.7" r="3.55"/><circle cx="305.9" cy="375.5" r="3.55"/><circle cx="287.6" cy="374.6" r="3.55"/><circle cx="287.9" cy="377.8" r="3.55"/><circle cx="295.5" cy="379.8" r="3.55"/><circle cx="298.7" cy="380.1" r="3.55"/><circle cx="302.0" cy="380.5" r="3.55"/><circle cx="271.3" cy="370.7" r="3.55"/><circle cx="268.7" cy="373.9" r="3.55"/><circle cx="311.1" cy="387.6" r="3.55"/><circle cx="312.7" cy="395.5" r="3.55"/><circle cx="309.8" cy="409.2" r="3.55"/><circle cx="304.6" cy="396.1" r="3.55"/><circle cx="296.1" cy="391.5" r="3.55"/><circle cx="301.3" cy="407.9" r="3.55"/><circle cx="302.0" cy="412.4" r="3.55"/><circle cx="300.7" cy="415.7" r="3.55"/><circle cx="274.6" cy="377.2" r="3.55"/><circle cx="278.5" cy="378.5" r="3.55"/><circle cx="215.7" cy="438.1" r="3.55"/><circle cx="224.8" cy="457.6" r="3.55"/><circle cx="245.0" cy="469.4" r="3.55"/><circle cx="248.3" cy="475.3" r="3.55"/><circle cx="241.8" cy="453.1" r="3.55"/><circle cx="300.0" cy="422.0" r="3.55"/><circle cx="294.2" cy="425.9" r="3.55"/><circle cx="315.7" cy="433.4" r="3.55"/><circle cx="294.8" cy="433.7" r="3.55"/><circle cx="300.0" cy="439.6" r="3.55"/><circle cx="292.9" cy="441.5" r="3.55"/><circle cx="290.9" cy="444.1" r="3.55"/><circle cx="287.0" cy="448.1" r="3.55"/><circle cx="289.6" cy="451.3" r="3.55"/><circle cx="293.5" cy="450.7" r="3.55"/><circle cx="283.7" cy="458.9" r="3.55"/><circle cx="310.5" cy="465.3" r="3.55"/><circle cx="292.2" cy="470.2" r="3.55"/><circle cx="289.9" cy="472.6" r="3.55"/><circle cx="275.9" cy="477.4" r="3.55"/><circle cx="269.8" cy="481.3" r="3.55"/><circle cx="269.0" cy="488.5" r="3.55"/><circle cx="277.8" cy="489.2" r="3.55"/><circle cx="256.1" cy="474.8" r="3.55"/><circle cx="260.2" cy="467.0" r="3.55"/><circle cx="264.1" cy="466.3" r="3.55"/><circle cx="268.1" cy="465.0" r="3.55"/><circle cx="271.3" cy="464.4" r="3.55"/><circle cx="275.2" cy="462.4" r="3.55"/><circle cx="249.1" cy="468.9" r="3.55"/><circle cx="272.6" cy="450.7" r="3.55"/><circle cx="274.6" cy="452.6" r="3.55"/><circle cx="296.4" cy="437.4" r="3.55"/><circle cx="251.4" cy="504.9" r="3.55"/><circle cx="253.0" cy="453.0" r="3.55"/></g>
<g stroke="#000000" stroke-width="1.05"><circle cx="181.7" cy="333.9" r="3.55"/><circle cx="243.3" cy="338.5" r="3.55"/><circle cx="244.6" cy="351.5" r="3.55"/><circle cx="243.1" cy="354.5" r="3.55"/><circle cx="211.1" cy="362.6" r="3.55"/><circle cx="243.7" cy="363.3" r="3.55"/><circle cx="211.1" cy="371.8" r="3.55"/><circle cx="216.6" cy="374.0" r="3.55"/><circle cx="240.5" cy="371.1" r="3.55"/><circle cx="197.4" cy="381.9" r="3.55"/><circle cx="222.2" cy="384.8" r="3.55"/><circle cx="228.1" cy="382.9" r="3.55"/><circle cx="233.9" cy="381.5" r="3.55"/><circle cx="212.7" cy="387.8" r="3.55"/><circle cx="206.9" cy="392.6" r="3.55"/><circle cx="199.8" cy="395.3" r="3.55"/><circle cx="205.2" cy="397.2" r="3.55"/><circle cx="213.1" cy="399.2" r="3.55"/><circle cx="217.6" cy="399.2" r="3.55"/><circle cx="205.9" cy="407.0" r="3.55"/><circle cx="232.0" cy="392.6" r="3.55"/><circle cx="227.4" cy="400.5" r="3.55"/><circle cx="258.9" cy="351.1" r="3.55"/><circle cx="255.7" cy="353.7" r="3.55"/><circle cx="285.0" cy="351.7" r="3.55"/><circle cx="279.8" cy="355.4" r="3.55"/><circle cx="273.7" cy="360.9" r="3.55"/><circle cx="267.7" cy="363.5" r="3.55"/><circle cx="257.0" cy="371.3" r="3.55"/><circle cx="273.7" cy="377.8" r="3.55"/><circle cx="267.4" cy="383.1" r="3.55"/><circle cx="274.6" cy="385.0" r="3.55"/><circle cx="272.0" cy="397.4" r="3.55"/><circle cx="270.0" cy="409.2" r="3.55"/><circle cx="262.8" cy="405.3" r="3.55"/><circle cx="178.1" cy="419.4" r="3.55"/><circle cx="185.7" cy="417.8" r="3.55"/><circle cx="185.4" cy="421.7" r="3.55"/><circle cx="195.4" cy="421.1" r="3.55"/><circle cx="199.4" cy="421.7" r="3.55"/><circle cx="213.1" cy="419.8" r="3.55"/><circle cx="195.7" cy="436.1" r="3.55"/><circle cx="195.4" cy="442.6" r="3.55"/><circle cx="206.5" cy="424.4" r="3.55"/><circle cx="205.2" cy="429.6" r="3.55"/><circle cx="202.6" cy="441.3" r="3.55"/><circle cx="198.1" cy="449.8" r="3.55"/><circle cx="197.4" cy="454.4" r="3.55"/><circle cx="207.8" cy="458.3" r="3.55"/><circle cx="211.1" cy="461.5" r="3.55"/><circle cx="190.9" cy="462.2" r="3.55"/><circle cx="196.1" cy="464.8" r="3.55"/><circle cx="215.0" cy="467.4" r="3.55"/><circle cx="191.5" cy="470.7" r="3.55"/><circle cx="207.8" cy="481.1" r="3.55"/><circle cx="216.3" cy="480.9" r="3.55"/><circle cx="218.9" cy="458.3" r="3.55"/><circle cx="212.4" cy="448.5" r="3.55"/><circle cx="205.2" cy="446.5" r="3.55"/><circle cx="215.0" cy="431.5" r="3.55"/><circle cx="236.6" cy="472.6" r="3.55"/><circle cx="231.3" cy="464.8" r="3.55"/><circle cx="245.7" cy="459.6" r="3.55"/><circle cx="263.5" cy="434.4" r="3.55"/><circle cx="271.3" cy="457.8" r="3.55"/><circle cx="253.1" cy="453.3" r="3.55"/><circle cx="249.1" cy="459.2" r="3.55"/><circle cx="244.6" cy="469.6" r="3.55"/><circle cx="242.0" cy="466.3" r="3.55"/><circle cx="251.1" cy="366.8" r="3.55"/><circle cx="213.9" cy="408.9" r="3.55"/><circle cx="217.2" cy="404.8" r="3.55"/><circle cx="225.3" cy="458.6" r="3.55"/><circle cx="235.1" cy="468.4" r="3.55"/><circle cx="213.9" cy="377.1" r="3.55"/></g>
</g>
<g stroke="#000" stroke-width="1" fill="none"><rect x="74.0" y="216.83" width="346.50" height="316.95"/><line x1="228.0" y1="76.03" x2="574.5" y2="76.03"/><line x1="574.5" y1="76.03" x2="574.5" y2="392.98"/><line x1="74.0" y1="216.83" x2="228.0" y2="76.03" stroke-width="1.12"/><line x1="420.5" y1="216.83" x2="574.5" y2="76.03" stroke-width="1.12"/><line x1="420.5" y1="533.78" x2="574.5" y2="392.98" stroke-width="1.12"/><line x1="74.00" y1="530.28" x2="74.00" y2="537.28"/><line x1="143.30" y1="530.28" x2="143.30" y2="537.28"/><line x1="212.60" y1="530.28" x2="212.60" y2="537.28"/><line x1="281.90" y1="530.28" x2="281.90" y2="537.28"/><line x1="351.20" y1="530.28" x2="351.20" y2="537.28"/><line x1="420.50" y1="530.28" x2="420.50" y2="537.28"/><line x1="70.5" y1="533.78" x2="77.5" y2="533.78"/><line x1="70.5" y1="454.54" x2="77.5" y2="454.54"/><line x1="70.5" y1="375.31" x2="77.5" y2="375.31"/><line x1="70.5" y1="296.07" x2="77.5" y2="296.07"/><line x1="70.5" y1="216.83" x2="77.5" y2="216.83"/><line x1="416.80" y1="533.78" x2="424.20" y2="533.78"/><line x1="455.30" y1="498.58" x2="462.70" y2="498.58"/><line x1="493.80" y1="463.38" x2="501.20" y2="463.38"/><line x1="532.30" y1="428.18" x2="539.70" y2="428.18"/><line x1="570.80" y1="392.98" x2="578.20" y2="392.98"/></g>
<g font-family="Liberation Sans, Arial, sans-serif" font-size="12" fill="#000"><text x="73.1" y="560" text-anchor="middle">-2</text><text x="142.4" y="560" text-anchor="middle">-1</text><text x="214.4" y="560" text-anchor="middle">0</text><text x="283.7" y="560" text-anchor="middle">1</text><text x="353.0" y="560" text-anchor="middle">2</text><text x="422.3" y="560" text-anchor="middle">3</text><text transform="translate(60.5,534.9) rotate(-90)" text-anchor="middle">-1</text><text transform="translate(60.5,453.1) rotate(-90)" text-anchor="middle">0</text><text transform="translate(60.5,373.9) rotate(-90)" text-anchor="middle">1</text><text transform="translate(60.5,294.7) rotate(-90)" text-anchor="middle">2</text><text transform="translate(60.5,215.4) rotate(-90)" text-anchor="middle">3</text><text x="445.0" y="537.4" text-anchor="middle">-1</text><text x="485.0" y="502.2" text-anchor="middle">0</text><text x="523.5" y="467.0" text-anchor="middle">1</text><text x="562.0" y="431.8" text-anchor="middle">2</text><text x="600.5" y="395.6" text-anchor="middle">3</text></g>
<g font-family="Liberation Sans, Arial, sans-serif" font-size="15.8" fill="#000"><text x="247" y="597.5" text-anchor="middle">mydata[, "F"]</text><text transform="translate(23,374.8) rotate(-90)" text-anchor="middle">mydata[, "T"]</text><text transform="translate(633.4,392.2) rotate(-90)" text-anchor="middle">mydata[, "L"]</text></g>
<text x="329.5" y="24.5" text-anchor="middle" font-family="Liberation Sans, Arial, sans-serif" font-weight="bold" font-size="19.6" fill="#000">kmeans</text>
</svg>
</body></html>
